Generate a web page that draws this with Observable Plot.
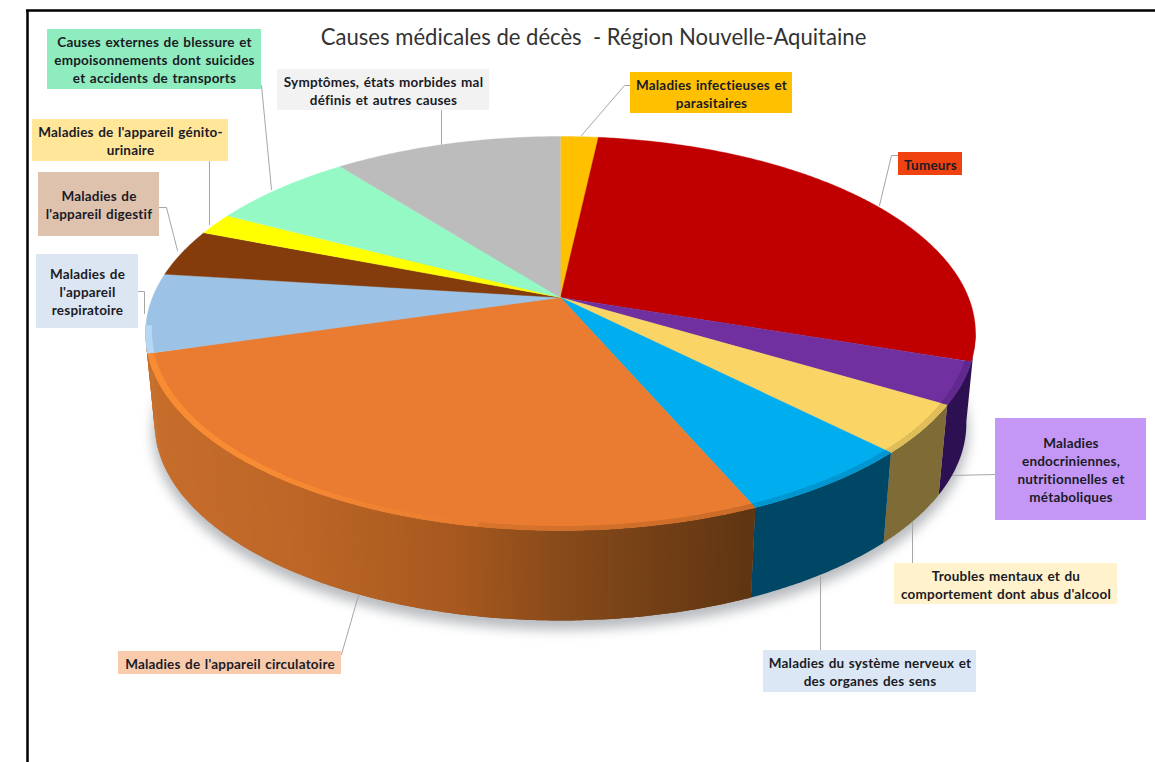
<!DOCTYPE html>
<html lang="fr">
<head>
<meta charset="utf-8">
<title>Causes médicales de décès - Région Nouvelle-Aquitaine</title>
<script src="https://cdn.jsdelivr.net/npm/d3@7"></script>
<script src="https://cdn.jsdelivr.net/npm/@observablehq/plot@0.6"></script>
<style>
  html, body { margin: 0; padding: 0; background: #fff; }
  svg { display: block; }
  .slice-label text { letter-spacing: 0.2px; word-spacing: 1px; }
</style>
</head>
<body>
<div id="chart"></div>
<script>
// Causes of death, clockwise from twelve o'clock (share of all deaths, %).
const categories = [
  "Maladies infectieuses et\nparasitaires",
  "Tumeurs",
  "Maladies\nendocriniennes,\nnutritionnelles et\nmétaboliques",
  "Troubles mentaux et du\ncomportement dont abus d'alcool",
  "Maladies du système nerveux et\ndes organes des sens",
  "Maladies de l'appareil circulatoire",
  "Maladies de\nl'appareil\nrespiratoire",
  "Maladies de\nl'appareil digestif",
  "Maladies de l'appareil génito-\nurinaire",
  "Causes externes de blessure et\nempoisonnements dont suicides\net accidents de transports",
  "Symptômes, états morbides mal\ndéfinis et autres causes"
];
const shares = [1.75, 28.4, 3.4, 4.0, 5.95, 27.0, 6.5, 3.9, 1.8, 6.7, 10.6];

const faceColors = ["#ffc000", "#c00000", "#7030a0", "#fad565", "#00aeef", "#e97c30",
                    "#9cc2e5", "#843c0c", "#ffff00", "#95f9c6", "#bcbcbc"];
const labelFills = ["#ffc000", "#f04210", "#c497f6", "#fff2cc", "#dbe7f4", "#f8cbad",
                    "#dce6f2", "#dfc2ae", "#ffe699", "#8fecbe", "#f2f2f2"];

// Label boxes: left, top, right, bottom.
const labelBoxes = [
  [630, 72, 792, 113], [898, 152, 962, 175], [995, 418, 1146, 520], [894, 563, 1117, 604],
  [763, 650, 976, 692], [118, 651, 341, 674], [36, 254, 138, 328], [38, 172, 159, 236],
  [32, 119, 228, 161], [47, 29, 261, 89], [277, 69, 489, 110]
];

// Leader lines from each box to its slice.
const leaderRoutes = [
  [[630, 85], [624, 85], [581, 135]],
  [[898, 155], [891, 155], [879, 205]],
  [[995, 474], [951, 475]],
  [[912, 563], [912, 522]],
  [[820, 650], [820, 576]],
  [[341, 654], [358, 595]],
  [[138, 291], [144, 291], [144, 313]],
  [[159, 207], [166, 207], [177, 250]],
  [[209, 161], [209, 224]],
  [[261, 85], [271, 189]],
  [[441, 110], [441, 144]]
];

// Tilted-disc projection of the pie, in page units.
const centre = {x: 560, top: 297, bottom: 387};
const tilt = 0.1827, spreadX = {top: 408, bottom: 399}, spreadY = 190.4;
const project = (deg, level = "top", r = 1) => {
  const t = deg * Math.PI / 180, X = r * Math.sin(t), Y = -r * Math.cos(t), w = 1 - tilt * Y;
  return [centre.x + spreadX[level] * X / w, centre[level] + spreadY * Y / w];
};

// Slice start and end angles from the shares.
const total = d3.sum(shares);
const ends = d3.cumsum(shares).map(v => v / total * 360);
const slices = categories.map((name, i) => ({name, i, a0: i ? ends[i - 1] : 0, a1: ends[i], face: faceColors[i]}));

const STEP = 0.5;
const arc = (a0, a1) => d3.range(0, Math.ceil((a1 - a0) / STEP) + 1).map(k => Math.min(a0 + k * STEP, a1));

const facePoints = slices.flatMap(s =>
  [[centre.x, centre.top], ...arc(s.a0, s.a1).map(a => project(a))]
    .map(([x, y]) => ({x, y, z: s.i, color: s.face})));

// Wall colours: flat on the right-hand slices, shaded from left to right on the large one.
const flatWalls = new Map([[2, "#2d1052"], [3, "#7f6b35"], [4, "#004766"]]);
const orangeWall = d3.scaleLinear()
  .domain([150, 300, 450, 560, 750])
  .range(["#c76e2c", "#bd6627", "#a8591f", "#874a1a", "#5e3512"]);
const wallColor = (i, x) => flatWalls.get(i) ?? orangeWall(x);

let group = 0;
const band = (a, b, inner, outer, color) => {
  const z = group++;
  return [...arc(a, b).map(t => inner(t)), ...arc(a, b).reverse().map(t => outer(t))]
    .map(([x, y]) => ({x, y, z, color}));
};
const topEdge = t => project(t);
const bottomEdge = t => project(t, "bottom");

// Flat walls are one polygon each; the first is stretched out to the silhouette.
const wallPoints = [
  ...band(100, slices[2].a1, topEdge, bottomEdge, flatWalls.get(2)),
  ...band(slices[3].a0, slices[3].a1, topEdge, bottomEdge, flatWalls.get(3)),
  ...band(slices[4].a0, slices[4].a1, topEdge, bottomEdge, flatWalls.get(4))
];
// The shaded wall is painted in overlapping strips, right to left, up to the left silhouette.
for (const a of arc(slices[5].a0, 262).slice(0, -1)) {
  const b = a + STEP, x = project(a, "bottom")[0];
  wallPoints.push(...band(Math.max(slices[5].a0, a - STEP), b, topEdge, bottomEdge, wallColor(5, x)));
}

// Bevelled rim on the front of the disc: lit on the left, slightly darker elsewhere.
const innerEdge = t => project(t, "top", 0.985);
const rimColor = (i, a) => {
  if (i === 6) return "#b6d7f3";
  if (i === 5 && a > 190) return d3.interpolateRgb("#e97c30", "#f88c34")(Math.min(1, (a - 190) / 30));
  return d3.interpolateRgb(faceColors[i], wallColor(i, project(a)[0]))(0.22);
};
const rimPoints = [];
for (const i of [2, 3, 4, 5, 6]) {
  const s = slices[i], last = i === 6 ? s.a0 + 8 : s.a1;
  for (const a of arc(s.a0, last).slice(0, -1)) {
    rimPoints.push(...band(Math.max(s.a0, a - STEP), a + STEP, topEdge, innerEdge, rimColor(i, a)));
  }
}

// Soft drop shadow beneath the disc.
const shadowPoints = arc(0, 360).map(a => {
  const [x, y] = project(a, "bottom", 1.005);
  return {x, y: y + 8};
});
const blurBy = radius => (index, scales, values, dimensions, context, next) => {
  const g = next(index, scales, values, dimensions, context);
  g.setAttribute("style", `filter: blur(${radius}px)`);
  return g;
};

const boxes = labelBoxes.map(([x1, y1, x2, y2], i) => ({x1, y1, x2, y2, fill: labelFills[i], text: categories[i]}));
const leaders = leaderRoutes.flatMap((route, z) => route.map(([x, y]) => ({x, y, z})));

const font = "Lato, 'Open Sans', sans-serif";

const chart = Plot.plot({
  width: 1155,
  height: 762,
  margin: 0,
  x: {domain: [0, 1155], range: [0, 1155], axis: null},
  y: {domain: [0, 762], range: [0, 762], axis: null},
  color: {type: "identity"},
  style: {background: "#fff", fontFamily: font},
  marks: [
    Plot.ruleX([27], {y1: 10, y2: 762, stroke: "#000", strokeWidth: 2.5}),
    Plot.ruleY([10], {x1: 26, x2: 1155, stroke: "#000", strokeWidth: 2.5}),
    Plot.line(shadowPoints, {x: "x", y: "y", fill: "#8a8f96", fillOpacity: 0.6, stroke: "none", render: blurBy(6)}),
    Plot.line(leaders, {x: "x", y: "y", z: "z", stroke: "#a6a6a6", strokeWidth: 1, curve: "linear"}),
    Plot.line(wallPoints, {x: "x", y: "y", z: "z", fill: "color", stroke: "none"}),
    Plot.line(facePoints, {x: "x", y: "y", z: "z", fill: "color", stroke: "color", strokeWidth: 0.4}),
    Plot.line(rimPoints, {x: "x", y: "y", z: "z", fill: "color", stroke: "none", render: blurBy(0.6)}),
    Plot.rect(boxes, {x1: "x1", x2: "x2", y1: "y1", y2: "y2", fill: "fill"}),
    Plot.text(boxes, {
      x: d => (d.x1 + d.x2) / 2,
      y: d => (d.y1 + d.y2) / 2,
      text: "text",
      fill: "#1b1b26",
      fontSize: 13.5,
      fontWeight: 700,
      lineHeight: 1.34,
      textAnchor: "middle",
      className: "slice-label"
    }),
    Plot.text(["Causes médicales de décès  - Région Nouvelle-Aquitaine"], {
      x: [593],
      y: [37],
      fill: "#333",
      fontSize: 22.1,
      textAnchor: "middle"
    })
  ]
});
document.getElementById("chart").append(chart);
</script>
</body>
</html>
